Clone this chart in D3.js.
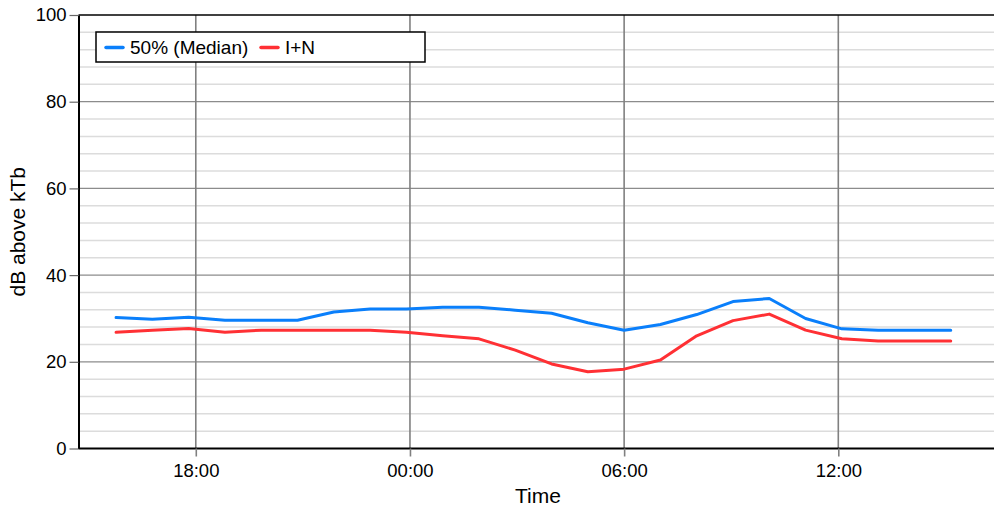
<!DOCTYPE html>
<html>
<head>
<meta charset="utf-8">
<script src="https://cdn.jsdelivr.net/npm/d3@7"></script>
<style>
  html, body { margin: 0; padding: 0; background: #fff; }
  svg { display: block; font-family: "Liberation Sans", Arial, sans-serif; }
</style>
</head>
<body>
<svg id="chart" width="994" height="508"></svg>
<script>
// Sample times (hours from midnight of the first day)
const times = ["15:46", "16:47", "17:48", "18:49", "19:50", "20:51", "21:52", "22:53",
  "23:54", "00:55", "01:56", "02:57", "03:58", "04:59", "06:00", "07:01",
  "08:02", "09:03", "10:04", "11:05", "12:06", "13:07", "14:08", "15:09"];
const median = [30.2, 29.8, 30.3, 29.6, 29.6, 29.6, 31.5, 32.2, 32.2, 32.6, 32.6, 31.9,
  31.2, 29.0, 27.3, 28.6, 30.9, 33.9, 34.6, 30.0, 27.6, 27.3, 27.3, 27.3];
const iPlusN = [26.8, 27.3, 27.7, 26.8, 27.3, 27.3, 27.3, 27.3, 26.8, 26.0, 25.3, 22.7,
  19.5, 17.7, 18.3, 20.4, 26.0, 29.5, 31.0, 27.3, 25.3, 24.8, 24.8, 24.8];
const xTickHours = [18, 24, 30, 36];
const xTickLabels = ["18:00", "00:00", "06:00", "12:00"];
const yTicks = [0, 20, 40, 60, 80, 100];
const seriesNames = ["50% (Median)", "I+N"];
const seriesColors = ["#0a7ffb", "#ff3034"];

// Convert "HH:MM" to continuous hours, rolling past midnight
let dayOffset = 0, prev = -1;
const hours = times.map(t => {
  const [h, m] = t.split(":").map(Number);
  let v = h + m / 60;
  if (v < prev) dayOffset += 24;
  prev = v;
  return v + dayOffset;
});

const svg = d3.select("#chart");
const margin = { left: 78.5, top: 15, right: -6, bottom: 59.5 };
const W = 994, H = 508;
const plotRight = W - margin.right;
const plotBottom = H - margin.bottom;
const FONT = "Liberation Sans, Arial, sans-serif";

const x = d3.scaleLinear().domain([14.714, 40.53]).range([margin.left, plotRight]);
const y = d3.scaleLinear().domain([0, 100]).range([plotBottom, margin.top]);

const g = svg.append("g");

// Minor horizontal grid (every 4 dB)
g.append("g").selectAll("line")
  .data(d3.range(0, 101, 4).filter(v => v % 20 !== 0))
  .join("line")
  .attr("x1", margin.left).attr("x2", W)
  .attr("y1", d => y(d)).attr("y2", d => y(d))
  .attr("stroke", "#dcdcdc").attr("stroke-width", 1.5);

// Major horizontal grid
g.append("g").selectAll("line")
  .data(yTicks.filter(v => v > 0 && v < 100))
  .join("line")
  .attr("x1", margin.left).attr("x2", W)
  .attr("y1", d => y(d)).attr("y2", d => y(d))
  .attr("stroke", "#8c8c8c").attr("stroke-width", 1.2);

// Vertical grid at time ticks
g.append("g").selectAll("line")
  .data(xTickHours)
  .join("line")
  .attr("x1", d => x(d)).attr("x2", d => x(d))
  .attr("y1", margin.top).attr("y2", plotBottom)
  .attr("stroke", "#808080").attr("stroke-width", 1.6);

// Top frame line
g.append("line")
  .attr("x1", margin.left).attr("x2", W)
  .attr("y1", margin.top).attr("y2", margin.top)
  .attr("stroke", "#000").attr("stroke-width", 1.5);

// Series lines
const line = d3.line().x((d, i) => x(hours[i])).y(d => y(d));
[median, iPlusN].forEach((s, k) => {
  g.append("path")
    .datum(s)
    .attr("d", line)
    .attr("fill", "none")
    .attr("stroke", seriesColors[k])
    .attr("stroke-width", 3)
    .attr("stroke-linejoin", "round")
    .attr("stroke-linecap", "round");
});

// X axis
const xAxis = d3.axisBottom(x)
  .tickValues(xTickHours)
  .tickFormat((d, i) => xTickLabels[i])
  .tickSize(8).tickSizeOuter(0);
const gx = svg.append("g").attr("transform", `translate(0,${plotBottom})`).call(xAxis);
gx.select(".domain").attr("stroke", "#000").attr("stroke-width", 2)
  .attr("d", `M${margin.left},0H${W}`);
gx.selectAll(".tick line").attr("stroke", "#808080").attr("stroke-width", 1.6);
gx.selectAll(".tick text").attr("font-size", 18.5).attr("fill", "#000")
  .attr("font-family", FONT).attr("y", 28.5).attr("dy", null);

// Y axis
const yAxis = d3.axisLeft(y).tickValues(yTicks).tickSize(9).tickSizeOuter(0).tickPadding(3);
const gy = svg.append("g").attr("transform", `translate(${margin.left},0)`).call(yAxis);
gy.select(".domain").attr("stroke", "#000").attr("stroke-width", 2);
gy.selectAll(".tick line").attr("stroke", "#666").attr("stroke-width", 1.2);
gy.selectAll(".tick text").attr("font-size", 18.5).attr("fill", "#000")
  .attr("font-family", FONT);

// Axis titles
svg.append("text")
  .attr("x", 538).attr("y", 503)
  .attr("text-anchor", "middle").attr("font-size", 21).attr("fill", "#000")
  .text("Time");
svg.append("text")
  .attr("transform", `translate(25,${(margin.top + plotBottom) / 2}) rotate(-90)`)
  .attr("text-anchor", "middle").attr("font-size", 21).attr("fill", "#000")
  .text("dB above kTb");

// Legend
const lg = svg.append("g");
lg.append("rect")
  .attr("x", 96).attr("y", 32).attr("width", 329).attr("height", 30)
  .attr("fill", "#fff").attr("stroke", "#000").attr("stroke-width", 1.5);
const legendItems = [
  { name: seriesNames[0], color: seriesColors[0], x: 106 },
  { name: seriesNames[1], color: seriesColors[1], x: 261 }
];
legendItems.forEach(it => {
  lg.append("line")
    .attr("x1", it.x).attr("x2", it.x + 17)
    .attr("y1", 47.5).attr("y2", 47.5)
    .attr("stroke", it.color).attr("stroke-width", 3.5).attr("stroke-linecap", "round");
  lg.append("text")
    .attr("x", it.x + 24).attr("y", 53.5)
    .attr("font-size", 19).attr("fill", "#000")
    .text(it.name);
});
</script>
</body>
</html>
